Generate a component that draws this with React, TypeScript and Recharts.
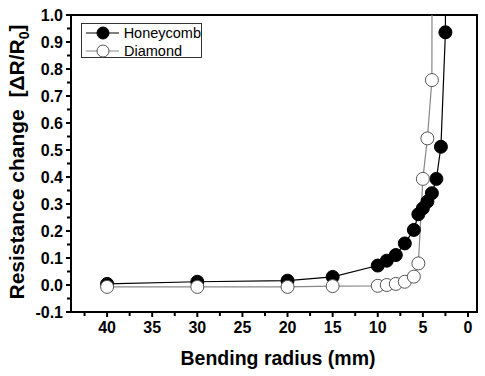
import { LineChart, Line, XAxis, YAxis, ReferenceArea } from 'recharts'

// bending radius (mm) vs resistance change
const honeycombR = [40, 30, 20, 15, 10, 9, 8, 7, 6, 5.5, 5, 4.5, 4, 3.5, 3, 2.5, 2]
const honeycombDR = [0.004, 0.012, 0.016, 0.03, 0.072, 0.09, 0.111, 0.154, 0.204, 0.262, 0.284, 0.309, 0.34, 0.393, 0.512, 0.936, 15]

const diamondR = [40, 30, 20, 15, 10, 9, 8, 7, 6, 5.5, 5, 4.5, 4, 3.5]
const diamondDR = [-0.007, -0.007, -0.007, -0.004, -0.003, 0.0, 0.004, 0.012, 0.031, 0.08, 0.393, 0.543, 0.759, 12]

const xMajor = [40, 35, 30, 25, 20, 15, 10, 5, 0]
const xMinor = [42.5, 37.5, 32.5, 27.5, 22.5, 17.5, 12.5, 7.5, 2.5]
const yMajor = [-0.1, 0, 0.1, 0.2, 0.3, 0.4, 0.5, 0.6, 0.7, 0.8, 0.9, 1.0]
const yMinor = [-0.05, 0.05, 0.15, 0.25, 0.35, 0.45, 0.55, 0.65, 0.75, 0.85, 0.95]

const honeycomb = honeycombR.map((x, i) => ({ x, y: honeycombDR[i] }))
const diamond = diamondR.map((x, i) => ({ x, y: diamondDR[i] }))

const FONT = '"Liberation Sans", Arial, sans-serif'

function XTick(props: any) {
  const { x, y, payload } = props
  const major = xMajor.includes(payload.value)
  return (
    <g>
      <line x1={x} y1={y} x2={x} y2={y + (major ? 5 : 4)} stroke="#000" strokeWidth={2} />
      {major && (
        <text x={x} y={y + 10} dy="0.71em" textAnchor="middle" fontFamily={FONT} fontWeight="bold" fontSize={16} fill="#000">
          {payload.value}
        </text>
      )}
    </g>
  )
}

function YTick(props: any) {
  const { x, y, payload } = props
  const major = yMajor.includes(payload.value)
  return (
    <g>
      <line x1={x} y1={y} x2={x - (major ? 5 : 4)} y2={y} stroke="#000" strokeWidth={2} />
      {major && (
        <text x={x - 8} y={y} dy="0.36em" textAnchor="end" fontFamily={FONT} fontWeight="bold" fontSize={16} fill="#000">
          {payload.value.toFixed(1)}
        </text>
      )}
    </g>
  )
}

function YLabel() {
  return (
    <text
      transform="translate(24,162) rotate(-90)"
      textAnchor="middle"
      fontFamily={FONT}
      fontWeight="bold"
      fontSize={21}
      fill="#000"
    >
      Resistance change{'\u00a0\u00a0'}[ΔR/R<tspan fontSize={14} dy={5}>0</tspan>
      <tspan dy={-5}>]</tspan>
    </text>
  )
}

function XLabel() {
  return (
    <text x={278} y={365} textAnchor="middle" fontFamily={FONT} fontWeight="bold" fontSize={19.5} fill="#000">
      Bending radius (mm)
    </text>
  )
}

function LegendBox() {
  const row = (label: string, filled: boolean, lineColor: string) => (
    <div style={{ display: 'flex', alignItems: 'center', height: 18 }}>
      <svg width={38} height={18}>
        <line x1={4} y1={9} x2={37} y2={9} stroke={lineColor} strokeWidth={1.2} />
        <circle cx={21} cy={9} r={6} fill={filled ? '#000' : '#fff'} stroke={filled ? '#000' : '#555'} strokeWidth={1} />
      </svg>
      <span style={{ marginLeft: 4, fontSize: 14.5, fontFamily: FONT, color: '#000', lineHeight: '18px' }}>{label}</span>
    </div>
  )
  return (
    <div
      style={{
        position: 'absolute',
        left: 81,
        top: 23,
        width: 121,
        height: 35,
        border: '1px solid #333',
        background: '#fff',
        boxSizing: 'border-box',
        paddingTop: 0,
      }}
    >
      {row('Honeycomb', true, '#000')}
      {row('Diamond', false, '#888')}
    </div>
  )
}

export default function App() {
  return (
    <div style={{ position: 'absolute', left: 0, top: 0, width: 485, height: 376, background: '#fff' }}>
      <LineChart width={485} height={376} margin={{ top: 15, right: 8, bottom: 24, left: 0 }}>
        <XAxis
          type="number"
          dataKey="x"
          domain={[-1, 44]}
          reversed
          allowDataOverflow
          ticks={[...xMajor, ...xMinor]}
          interval={0}
          tickSize={0}
          tickMargin={0}
          tick={<XTick />}
          axisLine={{ stroke: '#000', strokeWidth: 2 }}
          height={40}
        />
        <YAxis
          type="number"
          dataKey="y"
          domain={[-0.1, 1.0]}
          allowDataOverflow
          ticks={[...yMajor, ...yMinor]}
          interval={0}
          tickSize={0}
          tickMargin={0}
          tick={<YTick />}
          axisLine={{ stroke: '#000', strokeWidth: 2 }}
          width={71}
        />
        <ReferenceArea x1={-1} x2={44} y1={-0.1} y2={1.0} fill="none" stroke="#000" strokeWidth={2} ifOverflow="visible" />
        <Line
          data={honeycomb}
          dataKey="y"
          type="linear"
          stroke="#000"
          strokeWidth={1.2}
          dot={{ r: 6.5, fill: '#000', stroke: '#000', strokeWidth: 1 }}
          isAnimationActive={false}
        />
        <Line
          data={diamond}
          dataKey="y"
          type="linear"
          stroke="#888"
          strokeWidth={1.2}
          dot={{ r: 6.5, fill: '#fff', stroke: '#555', strokeWidth: 1 }}
          isAnimationActive={false}
        />
        <YLabel />
        <XLabel />
      </LineChart>
      <LegendBox />
    </div>
  )
}
